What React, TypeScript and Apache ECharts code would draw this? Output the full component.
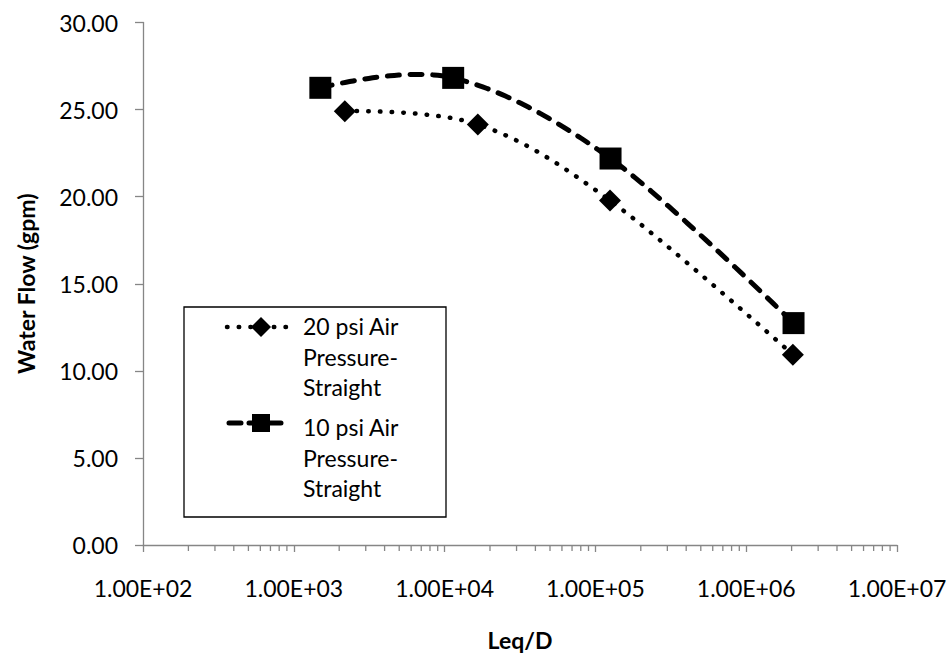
import React, { useEffect, useRef } from "react";
import * as echarts from "echarts";

const series20Name = "20 psi Air Pressure-Straight";
const series10Name = "10 psi Air Pressure-Straight";
const legendLines20 = ["20 psi Air", "Pressure-", "Straight"];
const legendLines10 = ["10 psi Air", "Pressure-", "Straight"];

const leqD20 = [2180, 16600, 125000, 2040000];
const flow20 = [24.91, 24.15, 19.78, 10.93];
const leqD10 = [1500, 11400, 126000, 2060000];
const flow10 = [26.25, 26.82, 22.19, 12.74];

const xTickLabels = ["1.00E+02", "1.00E+03", "1.00E+04", "1.00E+05", "1.00E+06", "1.00E+07"];
const minorMultipliers = [2, 3, 4, 5, 6, 7, 8, 9];
const decades = [100, 1000, 10000, 100000, 1000000];

const FONT = "Lato";
const AXIS_GRAY = "#868686";

// Excel-like smoothed curve drawn in pixel space through the points placed by the axes
function smoothPixels(pts: number[][]): number[][] {
  const out: number[][] = [];
  const n = pts.length;
  for (let i = 0; i < n - 1; i++) {
    const p0 = pts[i];
    const p1 = pts[i + 1];
    const prev = i > 0 ? pts[i - 1] : p0;
    const next = i + 2 < n ? pts[i + 2] : p1;
    const c1 = i > 0 ? [p0[0] + (p1[0] - prev[0]) / 6, p0[1] + (p1[1] - prev[1]) / 6] : p0;
    const c2 = i + 2 < n ? [p1[0] - (next[0] - p0[0]) / 6, p1[1] - (next[1] - p0[1]) / 6] : p1;
    const steps = 40;
    for (let s = i === 0 ? 0 : 1; s <= steps; s++) {
      const t = s / steps;
      const a = (1 - t) ** 3, b = 3 * (1 - t) ** 2 * t, c = 3 * (1 - t) * t * t, d = t ** 3;
      out.push([
        a * p0[0] + b * c1[0] + c * c2[0] + d * p1[0],
        a * p0[1] + b * c1[1] + c * c2[1] + d * p1[1],
      ]);
    }
  }
  return out;
}

export default function App() {
  const ref = useRef<HTMLDivElement>(null);
  useEffect(() => {
    if (!ref.current) return;
    const chart = echarts.init(ref.current, null, { renderer: "svg" });
    const minorData: number[][] = [];
    decades.forEach((d) => minorMultipliers.forEach((m) => minorData.push([d * m, 0])));

    const dottedDash = [0.5, 11.2];
    const dashedDash = [12, 10.7];

    const curveSeries = (name: string, xs: number[], ys: number[], width: number, dash: number[]) => ({
      type: "custom",
      name: name + " curve",
      silent: true,
      data: xs.map((x, i) => [x, ys[i]]),
      encode: { x: 0, y: 1 },
      z: 2,
      renderItem: (params: any, api: any) => {
        if (params.dataIndex !== 0) return null;
        const pts = xs.map((x, i) => api.coord([x, ys[i]]));
        return {
          type: "polyline",
          shape: { points: smoothPixels(pts) },
          style: { stroke: "#000", fill: "none", lineWidth: width, lineDash: dash, lineCap: "round", lineJoin: "round" },
        };
      },
    });

    const legendX = 184;
    const legendY = 307;
    const option: any = {
      animation: false,
      backgroundColor: "#fff",
      grid: { left: 143, right: 53, top: 22.5, bottom: 107.7, containLabel: false },
      xAxis: {
        type: "log",
        logBase: 10,
        min: 100,
        max: 10000000,
        splitNumber: 5,
        name: "Leq/D",
        nameLocation: "middle",
        nameGap: 83,
        nameTextStyle: { fontFamily: FONT, fontSize: 23, fontWeight: "bold", color: "#000" },
        axisLine: { show: true, lineStyle: { color: AXIS_GRAY, width: 1.3 } },
        axisTick: { show: true, length: 7, lineStyle: { color: AXIS_GRAY, width: 1.3 } },
        splitLine: { show: false },
        axisLabel: {
          margin: 31,
          fontFamily: FONT,
          fontSize: 23,
          color: "#000",
          formatter: (v: number) => xTickLabels[Math.round(Math.log10(v)) - 2] ?? "",
        },
      },
      yAxis: {
        type: "value",
        min: 0,
        max: 30,
        interval: 5,
        name: "Water Flow (gpm)",
        nameLocation: "middle",
        nameGap: 106,
        nameRotate: 90,
        nameTextStyle: { fontFamily: FONT, fontSize: 23, fontWeight: "bold", color: "#000" },
        axisLine: { show: true, lineStyle: { color: AXIS_GRAY, width: 1.3 } },
        axisTick: { show: true, length: 8, lineStyle: { color: AXIS_GRAY, width: 1.3 } },
        splitLine: { show: false },
        axisLabel: {
          margin: 25,
          fontFamily: FONT,
          fontSize: 23,
          color: "#000",
          formatter: (v: number) => v.toFixed(2),
        },
      },
      series: [
        {
          type: "custom",
          name: "minorTicks",
          silent: true,
          clip: false,
          data: minorData,
          encode: { x: 0, y: 1 },
          renderItem: (params: any, api: any) => {
            const p = api.coord([api.value(0), api.value(1)]);
            return {
              type: "line",
              shape: { x1: p[0], y1: p[1], x2: p[0], y2: p[1] + 6 },
              style: { stroke: AXIS_GRAY, lineWidth: 1.3 },
            };
          },
        },
        curveSeries(series20Name, leqD20, flow20, 4.5, dottedDash),
        curveSeries(series10Name, leqD10, flow10, 5, dashedDash),
        {
          type: "scatter",
          name: series20Name,
          data: leqD20.map((x, i) => [x, flow20[i]]),
          symbol: "diamond",
          symbolSize: 22,
          itemStyle: { color: "#000", opacity: 1 },
          z: 3,
        },
        {
          type: "scatter",
          name: series10Name,
          data: leqD10.map((x, i) => [x, flow10[i]]),
          symbol: "rect",
          symbolSize: 22,
          itemStyle: { color: "#000", opacity: 1 },
          z: 3,
        },
      ],
      graphic: [
        {
          type: "rect",
          shape: { x: legendX, y: legendY, width: 262, height: 210 },
          style: { fill: "#fff", stroke: "#000", lineWidth: 1.3 },
          z: 10,
        },
        {
          type: "line",
          shape: { x1: 227, y1: 327, x2: 289, y2: 327 },
          style: { stroke: "#000", lineWidth: 4.5, lineDash: [0.5, 11.2], lineCap: "round" },
          z: 11,
        },
        {
          type: "polygon",
          shape: { points: [[261, 317], [271, 327], [261, 337], [251, 327]] },
          style: { fill: "#000" },
          z: 12,
        },
        {
          type: "line",
          shape: { x1: 229, y1: 423, x2: 288, y2: 423 },
          style: { stroke: "#000", lineWidth: 5, lineDash: [12, 8], lineCap: "round" },
          z: 11,
        },
        {
          type: "rect",
          shape: { x: 252, y: 414, width: 18, height: 18 },
          style: { fill: "#000" },
          z: 12,
        },
        {
          type: "text",
          x: 303,
          y: 311,
          style: {
            text: legendLines20.join("\n"),
            font: `23px ${FONT}`,
            lineHeight: 30.5,
            fill: "#000",
            verticalAlign: "top",
          },
          z: 12,
        },
        {
          type: "text",
          x: 303,
          y: 412,
          style: {
            text: legendLines10.join("\n"),
            font: `23px ${FONT}`,
            lineHeight: 30.5,
            fill: "#000",
            verticalAlign: "top",
          },
          z: 12,
        },
      ],
    };
    chart.setOption(option);
    return () => chart.dispose();
  }, []);
  return <div ref={ref} style={{ width: 950, height: 656, position: "absolute", left: 0, top: 0 }} />;
}
